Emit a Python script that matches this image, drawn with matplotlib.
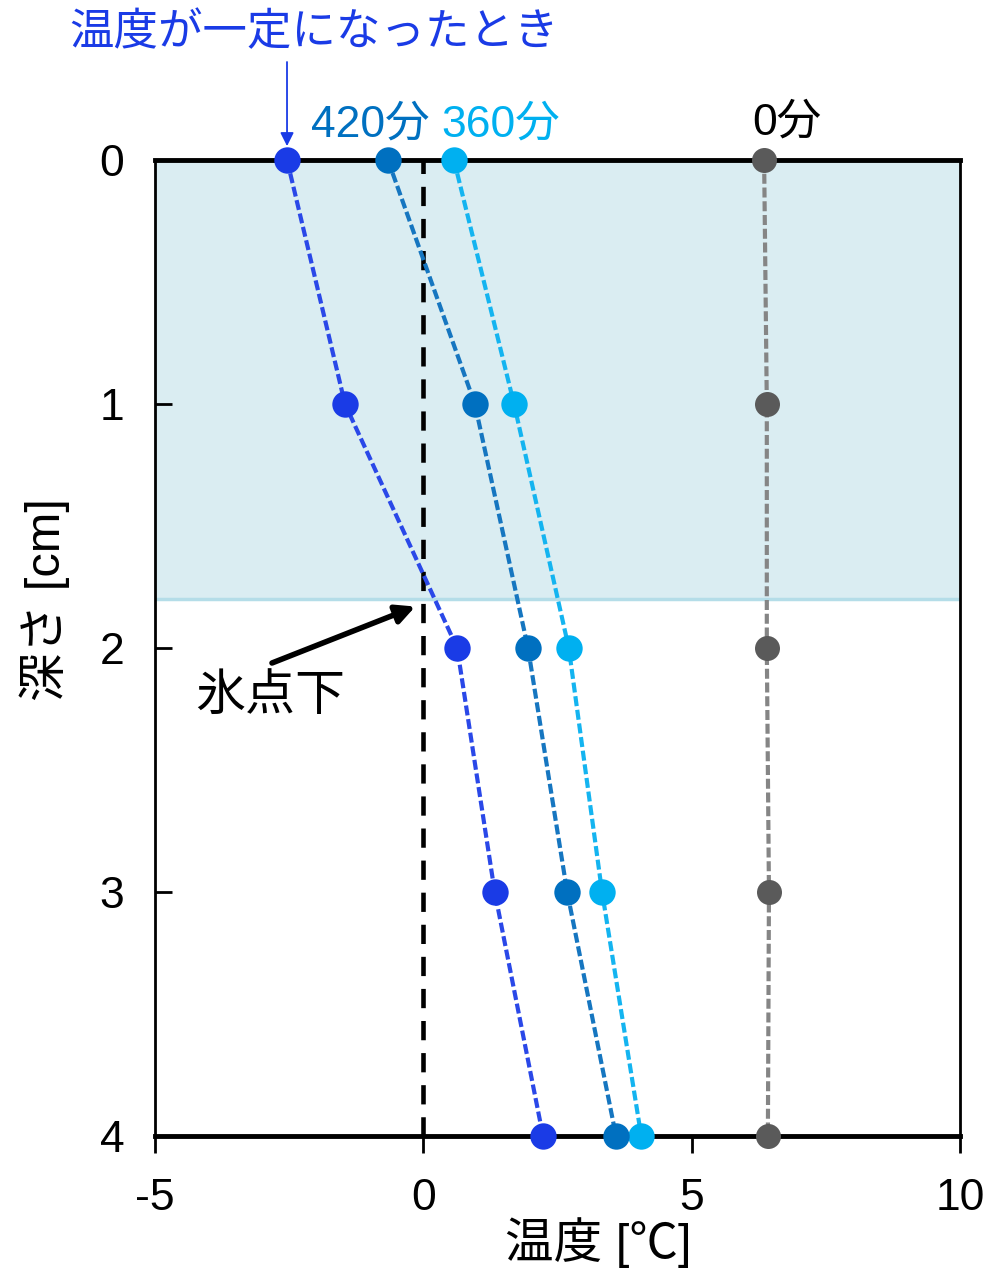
import matplotlib.pyplot as plt

plt.rcParams['font.family'] = ['Liberation Sans', 'Noto Sans CJK JP']

depth = [0, 1, 2, 3, 4]
t_const = [-2.54, -1.46, 0.63, 1.33, 2.23]
t_420 = [-0.66, 0.96, 1.95, 2.68, 3.59]
t_360 = [0.57, 1.69, 2.71, 3.33, 4.06]
t_0 = [6.35, 6.40, 6.40, 6.44, 6.42]

xticks = [-5, 0, 5, 10]
yticks = [0, 1, 2, 3, 4]
shade_depth = 1.8

W, H = 990, 1273
fig = plt.figure(figsize=(W / 100, H / 100), dpi=100)
ax = fig.add_axes([0.1566, 0.1076, 0.8131, 0.7667])

# 表層の範囲
ax.axhspan(0, shade_depth, facecolor='#daedf2', edgecolor='none', zorder=0)
ax.axhline(shade_depth, color='#b4dde8', lw=2.5, zorder=1)

# 0℃の縦線
ax.axvline(0, color='black', ls=(0, (4.2, 2.8)), lw=3.3, zorder=2)

series = [
    (t_0, '#858585', '#5a5a5a', 18),
    (t_360, '#14b4f0', '#00b0f0', 19),
    (t_420, '#1676c0', '#0070c0', 19),
    (t_const, '#2a48e8', '#1a3be6', 19),
]
for vals, lcol, mcol, ms in series:
    ax.plot(vals, depth, color=lcol, ls=(0, (2.4, 0.9)), lw=3,
            marker='o', markersize=ms, markerfacecolor=mcol,
            markeredgewidth=0, zorder=4, clip_on=False)

ax.set_xlim(-5, 10)
ax.set_ylim(4, 0)
ax.set_xticks(xticks)
ax.set_xticklabels([str(v) for v in xticks])
ax.set_yticks(yticks)

ax.tick_params(axis='x', direction='out', length=12, width=2, labelsize=32, pad=18)
ax.tick_params(axis='y', direction='in', length=12, width=2, labelsize=32, pad=22)

for s in ['top', 'bottom']:
    ax.spines[s].set_linewidth(3.5)
for s in ['left', 'right']:
    ax.spines[s].set_linewidth(2)

fig.text(598 / W, 1 - 1243 / H, '温度 [℃]', ha='center', va='center', fontsize=35)
fig.text(45 / W, 1 - 600 / H, '深さ [cm]', ha='center', va='center',
         rotation=90, fontsize=35)

# ラベルと矢印
fig.text(314 / W, 1 - 33 / H, '温度が一定になったとき', ha='center', va='center',
         fontsize=32, color='#1a3be6')
ax.annotate('', xy=(t_const[0], 0), xycoords='data',
            xytext=(287, H - 62), textcoords='figure pixels',
            arrowprops=dict(arrowstyle='-|>', color='#1a3be6', lw=1.3,
                            mutation_scale=20, shrinkA=0, shrinkB=10))
fig.text(370 / W, 1 - 125 / H, '420分', ha='center', va='center',
         fontsize=32, color='#0070c0')
fig.text(501 / W, 1 - 125 / H, '360分', ha='center', va='center',
         fontsize=32, color='#00b0f0')
fig.text(787 / W, 1 - 123 / H, '0分', ha='center', va='center',
         fontsize=32, color='black')

fig.text(270 / W, 1 - 697 / H, '氷点下', ha='center', va='center',
         fontsize=36, color='black')
ax.annotate('', xy=(-0.15, 1.83), xycoords='data',
            xytext=(272, H - 663), textcoords='figure pixels',
            arrowprops=dict(arrowstyle='-|>', color='black', lw=4,
                            mutation_scale=28, shrinkA=0, shrinkB=0))

fig.savefig('out.png', dpi=100)
